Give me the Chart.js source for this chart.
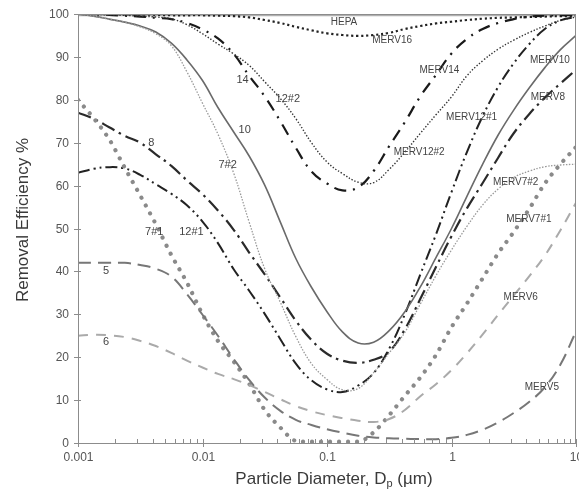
<!DOCTYPE html>
<html>
<head>
<meta charset="utf-8">
<script src="https://cdn.jsdelivr.net/npm/chart.js@4.4.1/dist/chart.umd.min.js"></script>
<style>
  html, body { margin: 0; padding: 0; background: #fff; }
  #chart { display: block; }
</style>
</head>
<body>
<canvas id="chart" width="579" height="492"></canvas>
<script>
// particle diameter grid in µm (1/8 decade steps)
const diameters = [0.001, 0.00133, 0.00178, 0.00237, 0.00316, 0.00422, 0.00562, 0.0075,
  0.01, 0.0133, 0.0178, 0.0237, 0.0316, 0.0422, 0.0562, 0.075,
  0.1, 0.133, 0.178, 0.237, 0.316, 0.422, 0.562, 0.75,
  1, 1.33, 1.78, 2.37, 3.16, 4.22, 5.62, 7.5, 10];

// removal efficiency (%) at each diameter above
const hepa = [99.8, 99.8, 99.8, 99.8, 99.8, 99.8, 99.8, 99.8,
  99.8, 99.8, 99.8, 99.8, 99.8, 99.8, 99.8, 99.8,
  99.8, 99.8, 99.8, 99.8, 99.8, 99.8, 99.8, 99.8,
  99.8, 99.8, 99.8, 99.8, 99.8, 99.8, 99.8, 99.8, 99.8];
const merv16 = [100, 100, 100, 99.9, 99.9, 99.8, 99.7, 99.7,
  99.7, 99.6, 99.5, 99.2, 98.6, 97.9, 97.0, 96.2,
  95.5, 95.1, 94.9, 95.1, 95.6, 96.5, 97.2, 97.8,
  98.2, 98.6, 98.9, 99.1, 99.2, 99.3, 99.4, 99.5, 99.5];
const merv14 = [100, 99.9, 99.8, 99.6, 99.4, 99.1, 98.8, 97.9,
  96.4, 94.3, 90.7, 85.6, 80.8, 75.0, 68.8, 63.3,
  60.5, 58.9, 59.6, 63.4, 69.2, 74.8, 80.8, 85.8,
  90.8, 94.2, 96.5, 97.9, 98.8, 99.4, 99.6, 99.7, 99.7];
const merv12b = [100, 99.9, 99.8, 99.7, 99.5, 99.3, 98.9, 97.5,
  95.4, 93.0, 90.7, 88.0, 84.2, 80.3, 75.6, 70.0,
  65.5, 62.8, 60.8, 60.7, 63.8, 67.8, 72.2, 76.5,
  80.7, 85.6, 89.1, 91.8, 93.9, 95.7, 97.2, 98.5, 99.3];
const merv12a = [63, 63.9, 64.3, 64, 62.5, 60.3, 58.1, 55.4,
  51.6, 46.6, 40.5, 35.5, 30.1, 24.2, 18.5, 14.6,
  12.5, 11.9, 13.4, 16.3, 22, 30, 39.3, 48.6,
  58.5, 67.8, 76.2, 83, 88.5, 93, 96.5, 98.5, 99.3];
const merv10 = [100, 99.5, 98.8, 98.1, 97.2, 95.8, 93.2, 89.3,
  84.5, 78.2, 72.5, 66.9, 60.1, 51.5, 43, 36.3,
  30.6, 25.9, 23.3, 23.5, 26.2, 30.6, 36.4, 43.2,
  50, 57.5, 65, 71.8, 77.6, 82.8, 87.5, 91.7, 95];
const merv8 = [77, 75.6, 73.6, 71.6, 70, 67.3, 64.6, 61.2,
  58, 54.2, 49.7, 44.4, 39.3, 33.9, 28.5, 24,
  20.8, 19.2, 18.7, 19.4, 21.3, 26.5, 33.6, 41,
  48.2, 54.7, 60.6, 66.5, 72.2, 76.7, 80.5, 83.8, 87];
const merv7b = [100, 99.5, 98.8, 98.1, 97, 95.4, 92.6, 86.5,
  79.2, 72, 62.9, 51.5, 40.6, 32.8, 24.8, 18.5,
  14.8, 12.4, 12.7, 16.4, 21, 25.8, 32.4, 39,
  45, 50.5, 55.5, 59.2, 61.9, 63.4, 64.4, 64.8, 65];
const merv7a = [80, 75.8, 70.8, 64.2, 57.7, 51, 43.8, 37.4,
  30, 23.8, 19, 13.8, 7.7, 3.6, 0.5, 0.3,
  0.3, 0.3, 0.3, 2.5, 6.5, 11, 15.3, 20.5,
  27, 32.5, 38.4, 44.2, 49.2, 54.6, 60.5, 65, 69];
const merv6 = [25, 25.2, 25.1, 24.7, 23.8, 22.6, 21, 19.2,
  17.6, 16.1, 14.9, 13.5, 11.9, 10.2, 8.6, 7.4,
  6.5, 5.8, 5.2, 4.9, 5.6, 7.7, 10.9, 13.7,
  17, 20.9, 25.3, 29.9, 34.4, 38.9, 43.7, 49.6, 56];
const merv5 = [42, 42, 42, 42, 41.5, 40.6, 38.8, 34.7,
  29.9, 25, 19.6, 14.7, 10.6, 7.5, 5.4, 4.2,
  3.2, 2.4, 1.7, 1.3, 1.1, 1.0, 0.9, 0.9,
  1.2, 1.9, 3.1, 4.8, 7, 9.6, 13, 18.3, 26];

// axes
const xTickValues = [0.001, 0.01, 0.1, 1, 10];
const xTickLabels = ['0.001', '0.01', '0.1', '1', '10'];
const yTickValues = [0, 10, 20, 30, 40, 50, 60, 70, 80, 90, 100];

// curve names as printed on the figure: [text, diameter, efficiency]
const curveNames = [
  ['HEPA', 0.137, 98.1], ['MERV16', 0.334, 93.9], ['MERV14', 0.80, 86.9],
  ['MERV12#1', 1.45, 76.0], ['MERV12#2', 0.55, 67.8], ['MERV10', 6.17, 89.3],
  ['MERV8', 5.94, 80.7], ['MERV7#2', 3.28, 60.8], ['MERV7#1', 4.18, 52.2],
  ['MERV6', 3.60, 34.0], ['MERV5', 5.32, 13.1]
];
const curveTags = [
  ['14', 0.0210, 84.6], ['12#2', 0.0484, 80.2], ['10', 0.0218, 73.0],
  ['8', 0.00388, 69.9], ['7#2', 0.0159, 64.8], ['7#1', 0.0041, 49.2],
  ['12#1', 0.00815, 49.2], ['5', 0.00168, 40.1], ['6', 0.00168, 23.5]
];

const FONT = "'Liberation Sans', Arial, sans-serif";
Chart.defaults.font.family = FONT;

function series(name, values, style) {
  return Object.assign({
    label: name,
    data: values.map((v, i) => ({ x: diameters[i], y: v })),
    pointRadius: 0,
    fill: false,
    tension: 0.4
  }, style);
}

const datasets = [
  series('MERV5', merv5, { borderColor: '#777', borderWidth: 2, borderDash: [13, 7] }),
  series('MERV6', merv6, { borderColor: '#aaa', borderWidth: 2, borderDash: [10, 8] }),
  series('MERV7#1', merv7a, { borderColor: '#8a8a8a', borderWidth: 4.2, borderDash: [0.01, 9], borderCapStyle: 'round', cubicInterpolationMode: 'monotone' }),
  series('MERV7#2', merv7b, { borderColor: '#9a9a9a', borderWidth: 1.3, borderDash: [1.5, 1.5] }),
  series('MERV8', merv8, { borderColor: '#2a2a2a', borderWidth: 2.2, borderDash: [14, 5, 2.5, 5] }),
  series('MERV10', merv10, { borderColor: '#6a6a6a', borderWidth: 1.6 }),
  series('MERV12#1', merv12a, { borderColor: '#222', borderWidth: 2, borderDash: [12, 4, 2, 4, 2, 4] }),
  series('MERV12#2', merv12b, { borderColor: '#333', borderWidth: 1.4, borderDash: [1.4, 1.8] }),
  series('MERV14', merv14, { borderColor: '#1a1a1a', borderWidth: 2.2, borderDash: [12, 7, 2, 7] }),
  series('MERV16', merv16, { borderColor: '#222', borderWidth: 2.2, borderDash: [2.2, 2.8] }),
  series('HEPA', hepa, { borderColor: '#b0b0b0', borderWidth: 3 })
];

// frame, ticks, labels and titles drawn on top of the scales
const decor = {
  id: 'decor',
  afterDraw(chart) {
    const { ctx, chartArea: a, scales: { x, y } } = chart;
    const line = (x1, y1, x2, y2) => { ctx.beginPath(); ctx.moveTo(x1, y1); ctx.lineTo(x2, y2); ctx.stroke(); };
    ctx.save();
    ctx.strokeStyle = '#8c8c8c';
    ctx.lineWidth = 1;
    ctx.strokeRect(a.left + 0.5, a.top + 0.5, a.right - a.left - 1, a.bottom - a.top);

    // y ticks + labels
    ctx.fillStyle = '#555';
    ctx.font = '12px ' + FONT;
    ctx.textAlign = 'right';
    ctx.textBaseline = 'middle';
    yTickValues.forEach(v => {
      const py = Math.round(y.getPixelForValue(v)) + 0.5;
      line(a.left - 4, py, a.left + 3, py);
      ctx.fillText(String(v), a.left - 9, py);
    });

    // x ticks: decades cross the axis, minor ones point inward
    ctx.textAlign = 'center';
    xTickValues.forEach((v, i) => {
      const px = Math.round(x.getPixelForValue(v)) + 0.5;
      line(px, a.bottom - 4, px, a.bottom + 4);
      ctx.fillText(xTickLabels[i], px, a.bottom + 15);
      if (i < xTickValues.length - 1) {
        for (let m = 2; m <= 9; m++) {
          const qx = Math.round(x.getPixelForValue(v * m)) + 0.5;
          line(qx, a.bottom - 4, qx, a.bottom);
        }
      }
    });

    // curve names
    ctx.fillStyle = '#444';
    ctx.textBaseline = 'middle';
    ctx.font = '10px ' + FONT;
    curveNames.forEach(([t, d, e]) => ctx.fillText(t, x.getPixelForValue(d), y.getPixelForValue(e)));
    ctx.font = '11px ' + FONT;
    curveTags.forEach(([t, d, e]) => ctx.fillText(t, x.getPixelForValue(d), y.getPixelForValue(e)));

    // axis titles
    ctx.fillStyle = '#3a3a3a';
    ctx.font = '17px ' + FONT;
    ctx.save();
    ctx.translate(23, 220);
    ctx.rotate(-Math.PI / 2);
    ctx.textAlign = 'center';
    ctx.fillText('Removal Efficiency %', 0, 0);
    ctx.restore();

    const t1 = 'Particle Diameter, D', t2 = 'p', t3 = ' (µm)';
    const w1 = ctx.measureText(t1).width, w3 = ctx.measureText(t3).width;
    ctx.font = '11px ' + FONT;
    const w2 = ctx.measureText(t2).width;
    let sx = 334 - (w1 + w2 + w3) / 2;
    const ty = 479;
    ctx.textAlign = 'left';
    ctx.font = '17px ' + FONT;
    ctx.fillText(t1, sx, ty);
    ctx.font = '11px ' + FONT;
    ctx.fillText(t2, sx + w1, ty + 5);
    ctx.font = '17px ' + FONT;
    ctx.fillText(t3, sx + w1 + w2, ty);
    ctx.restore();
  }
};

new Chart(document.getElementById('chart'), {
  type: 'line',
  data: { datasets },
  options: {
    responsive: false,
    animation: false,
    devicePixelRatio: 1,
    layout: { padding: { top: 14, right: 3, left: 0, bottom: 0 } },
    plugins: { legend: { display: false }, tooltip: { enabled: false } },
    scales: {
      x: {
        type: 'logarithmic', min: 0.001, max: 10,
        grid: { display: false }, border: { display: false },
        ticks: { display: false },
        afterFit: s => { s.height = 49; }
      },
      y: {
        type: 'linear', min: 0, max: 100,
        grid: { display: false }, border: { display: false },
        ticks: { display: false },
        afterFit: s => { s.width = 78; }
      }
    }
  },
  plugins: [decor]
});
</script>
</body>
</html>
